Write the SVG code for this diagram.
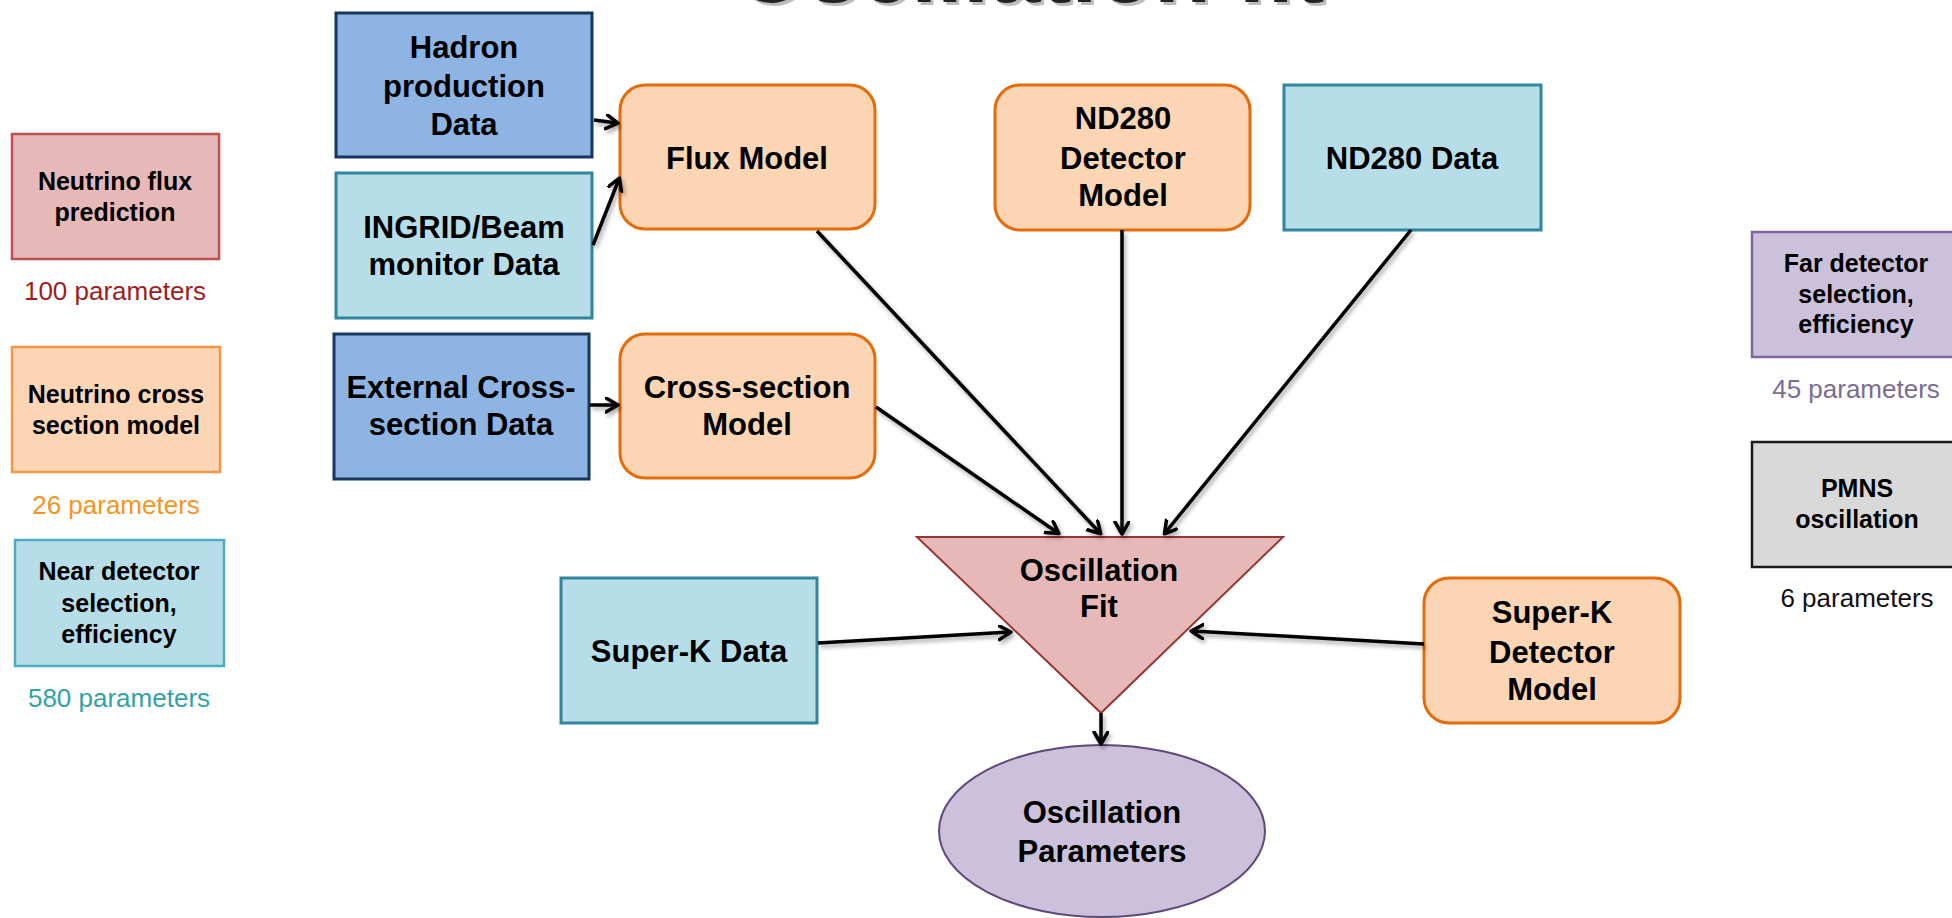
<svg xmlns="http://www.w3.org/2000/svg" width="1952" height="918" viewBox="0 0 1952 918">
<style>
text{font-family:"Liberation Sans",Arial,sans-serif;text-anchor:middle;fill:#000}
.m{font-size:31px;font-weight:bold}
.l{font-size:25px;font-weight:bold}
.p{font-size:26px}
.blue{fill:#8eb4e3;stroke:#17375e;stroke-width:3}
.teal{fill:#b7dee8;stroke:#31859c;stroke-width:3}
.org{fill:#fcd5b5;stroke:#e46c0a;stroke-width:3}
.conn line{stroke:#000;stroke-width:3.5;marker-end:url(#arr)}
</style>
<defs>
<marker id="arr" markerUnits="userSpaceOnUse" markerWidth="20" markerHeight="20" refX="12" refY="8" orient="auto">
<path d="M1,1 L13,8 L1,15" fill="none" stroke="#000" stroke-width="3.5" stroke-linejoin="round" stroke-linecap="round"/>
</marker>
<filter id="sh" x="-20%" y="-20%" width="140%" height="140%">
<feDropShadow dx="2" dy="3" stdDeviation="2" flood-color="#000" flood-opacity="0.35"/>
</filter>
</defs>
<rect width="1952" height="918" fill="#fff"/>

<g id="title">
<text x="1033" y="5" font-size="96" font-weight="bold" textLength="589" lengthAdjust="spacingAndGlyphs" style="fill:#bdbdbd">Oscillation fit</text>
<text x="1030" y="2" font-size="96" font-weight="bold" textLength="589" lengthAdjust="spacingAndGlyphs" style="fill:#222">Oscillation fit</text>
</g>

<g id="legend-flux">
<rect x="12" y="134" width="207" height="125" fill="#e6b9b8" stroke="#c0504d" stroke-width="2.5"/>
<text class="l" x="115" y="190">Neutrino flux</text>
<text class="l" x="115" y="221">prediction</text>
<text class="p" x="115" y="300" style="fill:#a01c1c">100 parameters</text>
</g>
<g id="legend-xsec">
<rect x="12" y="347" width="208" height="125" fill="#fcd5b5" stroke="#f79646" stroke-width="2.5"/>
<text class="l" x="116" y="403">Neutrino cross</text>
<text class="l" x="116" y="434">section model</text>
<text class="p" x="116" y="514" style="fill:#f7941d">26 parameters</text>
</g>
<g id="legend-near">
<rect x="15" y="540" width="209" height="126" fill="#b7dee8" stroke="#4bacc6" stroke-width="2.5"/>
<text class="l" x="119" y="580">Near detector</text>
<text class="l" x="119" y="612">selection,</text>
<text class="l" x="119" y="643">efficiency</text>
<text class="p" x="119" y="707" style="fill:#31a3a6">580 parameters</text>
</g>
<g id="legend-far">
<rect x="1752" y="232" width="210" height="125" fill="#ccc1da" stroke="#8064a2" stroke-width="2.5"/>
<text class="l" x="1856" y="272">Far detector</text>
<text class="l" x="1856" y="303">selection,</text>
<text class="l" x="1856" y="333">efficiency</text>
<text class="p" x="1856" y="398" style="fill:#7b6c93">45 parameters</text>
</g>
<g id="legend-pmns">
<rect x="1752" y="442" width="210" height="125" fill="#d9d9d9" stroke="#1a1a1a" stroke-width="2.5"/>
<text class="l" x="1857" y="497">PMNS</text>
<text class="l" x="1857" y="528">oscillation</text>
<text class="p" x="1857" y="607" style="fill:#111">6 parameters</text>
</g>

<g id="hadron">
<rect class="blue" x="336" y="13" width="256" height="144"/>
<text class="m" x="464" y="58">Hadron</text>
<text class="m" x="464" y="97">production</text>
<text class="m" x="464" y="135">Data</text>
</g>
<g id="ingrid">
<rect class="teal" x="336" y="173" width="256" height="145"/>
<text class="m" x="464" y="238">INGRID/Beam</text>
<text class="m" x="464" y="275">monitor Data</text>
</g>
<g id="flux">
<rect class="org" x="620" y="85" width="255" height="144" rx="25"/>
<text class="m" x="747" y="169">Flux Model</text>
</g>
<g id="external">
<rect class="blue" x="334" y="334" width="255" height="145"/>
<text class="m" x="461" y="398">External Cross-</text>
<text class="m" x="461" y="435">section Data</text>
</g>
<g id="xsec">
<rect class="org" x="620" y="334" width="255" height="144" rx="25"/>
<text class="m" x="747" y="398">Cross-section</text>
<text class="m" x="747" y="435">Model</text>
</g>
<g id="nd280det">
<rect class="org" x="995" y="85" width="255" height="145" rx="25"/>
<text class="m" x="1123" y="129">ND280</text>
<text class="m" x="1123" y="169">Detector</text>
<text class="m" x="1123" y="206">Model</text>
</g>
<g id="nd280data">
<rect class="teal" x="1284" y="85" width="257" height="145"/>
<text class="m" x="1412" y="169">ND280 Data</text>
</g>
<g id="skdata">
<rect class="teal" x="561" y="578" width="256" height="145"/>
<text class="m" x="689" y="662">Super-K Data</text>
</g>
<g id="skdet">
<rect class="org" x="1424" y="578" width="256" height="145" rx="25"/>
<text class="m" x="1552" y="623">Super-K</text>
<text class="m" x="1552" y="663">Detector</text>
<text class="m" x="1552" y="700">Model</text>
</g>
<g id="fit">
<polygon points="917,537 1283,537 1101,713" fill="#e6b9b8" stroke="#953735" stroke-width="2"/>
<text class="m" x="1099" y="581">Oscillation</text>
<text class="m" x="1099" y="617">Fit</text>
</g>
<g id="params">
<ellipse cx="1102" cy="831" rx="163" ry="86" fill="#ccc1da" stroke="#5f497a" stroke-width="2"/>
<text class="m" x="1102" y="823">Oscillation</text>
<text class="m" x="1102" y="862">Parameters</text>
</g>

<g id="connectors" class="conn" filter="url(#sh)">
<line x1="594" y1="120" x2="617" y2="123"/>
<line x1="593" y1="245" x2="619" y2="179"/>
<line x1="590" y1="405" x2="617" y2="405"/>
<line x1="817" y1="231" x2="1100" y2="533"/>
<line x1="876" y1="407" x2="1058" y2="533"/>
<line x1="1122" y1="230" x2="1122" y2="533"/>
<line x1="1411" y1="230" x2="1165" y2="533"/>
<line x1="818" y1="643" x2="1010" y2="632"/>
<line x1="1424" y1="644" x2="1192" y2="631"/>
<line x1="1101" y1="713" x2="1101" y2="743"/>
</g>
</svg>
